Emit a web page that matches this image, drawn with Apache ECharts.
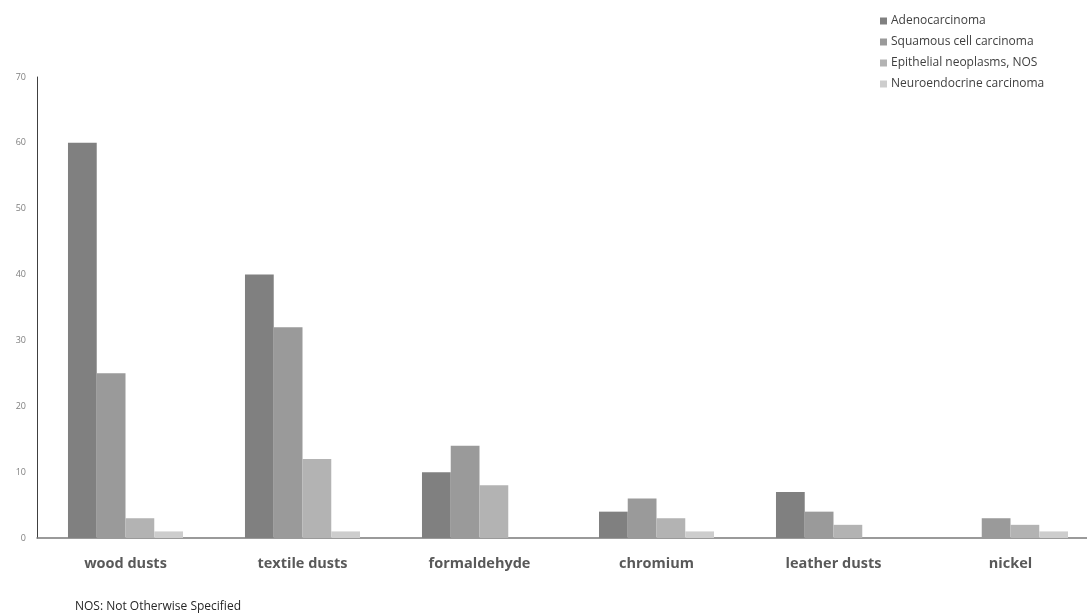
<!DOCTYPE html>
<html>
<head>
<meta charset="utf-8">
<script src="https://cdn.jsdelivr.net/npm/echarts@6/dist/echarts.min.js"></script>
<style>
html,body{margin:0;padding:0;overflow:hidden;background:#fff;width:1087px;height:616px;}
#c{width:1100px;height:616px;}
</style>
</head>
<body>
<div id="c"></div>
<script>
const categories = ['wood dusts','textile dusts','formaldehyde','chromium','leather dusts','nickel'];
const seriesNames = ['Adenocarcinoma','Squamous cell carcinoma','Epithelial neoplasms, NOS','Neuroendocrine carcinoma'];
const adenocarcinoma = [60, 40, 10, 4, 7, 0];
const squamous = [25, 32, 14, 6, 4, 3];
const epithelial = [3, 12, 8, 3, 2, 2];
const neuroendocrine = [1, 1, 0, 1, 0, 1];
const yTicks = [0, 10, 20, 30, 40, 50, 60, 70];
const footnote = 'NOS: Not Otherwise Specified';

const colors = ['#808080', '#9a9a9a', '#b3b3b3', '#cdcdcd'];
const values = [adenocarcinoma, squamous, epithelial, neuroendocrine];

const chart = echarts.init(document.getElementById('c'), null, {renderer: 'canvas'});
chart.setOption({
  animation: false,
  color: colors,
  legend: {
    orient: 'vertical',
    left: 880,
    top: 15,
    padding: 0,
    itemWidth: 7,
    itemHeight: 7,
    itemGap: 9,
    icon: 'rect',
    textStyle: {fontFamily: 'Open Sans', fontSize: 12, color: '#404040', padding: [0,0,0,-1]},
    data: seriesNames
  },
  grid: {left: 37, right: 1, top: 77, bottom: 78, containLabel: false},
  xAxis: {
    type: 'category',
    data: categories,
    axisLine: {lineStyle: {color: '#7a7a7a', width: 1.5}},
    axisTick: {show: false},
    axisLabel: {fontFamily: 'Open Sans', fontWeight: 'bold', fontSize: 14.5, color: '#595959', margin: 18}
  },
  yAxis: {
    type: 'value',
    min: yTicks[0],
    max: yTicks[yTicks.length - 1],
    interval: 10,
    splitLine: {show: false},
    axisLine: {show: true, lineStyle: {color: '#404040', width: 1}},
    axisTick: {show: false},
    axisLabel: {fontFamily: 'Open Sans', fontSize: 9, color: '#7f7f7f', margin: 11}
  },
  series: seriesNames.map((n, i) => ({
    name: n,
    type: 'bar',
    data: values[i],
    barGap: '0%',
    barCategoryGap: '35%',
    itemStyle: {color: colors[i]}
  })),
  graphic: [{
    type: 'text',
    left: 75,
    top: 601,
    style: {text: footnote, fontFamily: 'Open Sans', fontSize: 12, fill: '#262626'}
  }]
});
</script>
</body>
</html>
